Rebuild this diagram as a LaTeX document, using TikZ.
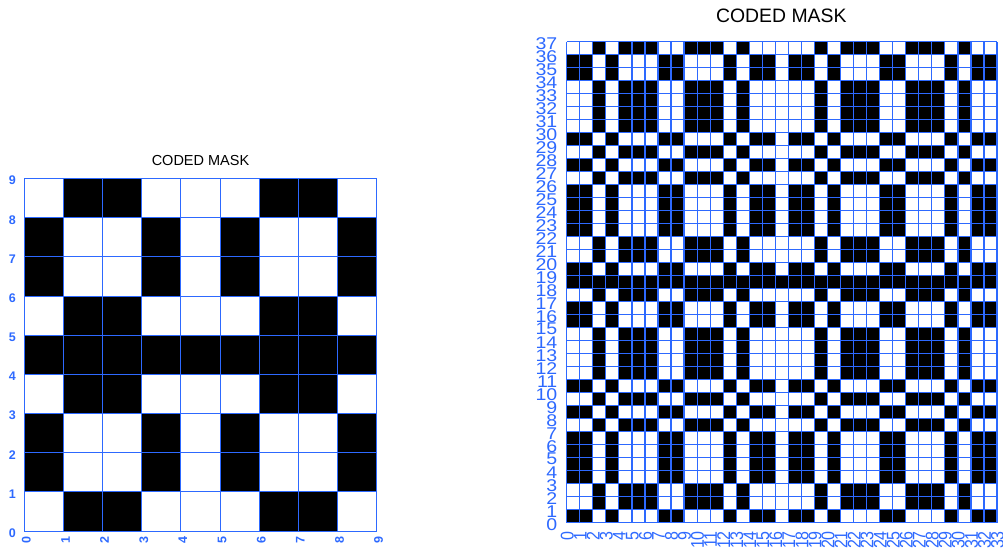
\documentclass[tikz,border=0pt]{standalone}
\usepackage{fontspec}
\setmainfont{Liberation Sans}
\definecolor{axblue}{RGB}{45,105,255}
\begin{document}
\begin{tikzpicture}[x=1pt,y=1pt,
  lgrid/.style={draw=axblue,line width=1pt},
  rgrid/.style={draw=axblue,line width=1.2pt},
  cellfill/.style={fill=black},
  llab/.style={text=axblue,inner sep=0pt,font={\fontsize{12.5}{15}\selectfont\bfseries}},
  rylab/.style={text=axblue,inner sep=0pt,font={\fontsize{17}{20}\selectfont}},
  rxlab/.style={text=axblue,inner sep=0pt,font={\fontsize{16}{18}\selectfont}},
  ttl/.style={text=black,inner sep=0pt}]
\useasboundingbox (0,0) rectangle (1003,554);
% ---------------- left mask 9x9 ----------------
\def\LT{{1,-1,-1,1,0,1,-1,-1,1}}
\def\lx{24.3}\def\ly{23}\def\lc{39.15}
\foreach \r in {0,...,8}{\foreach \c in {0,...,8}{
  \pgfmathtruncatemacro\va{\LT[\r]}
  \pgfmathtruncatemacro\vb{\LT[\c]}
  \pgfmathtruncatemacro\vp{\va*\vb}
  \ifnum\va=0 \fill[cellfill] (\lx+\c*\lc,\ly+\r*\lc) rectangle ++(\lc,\lc);\fi
  \ifnum\vp<0 \fill[cellfill] (\lx+\c*\lc,\ly+\r*\lc) rectangle ++(\lc,\lc);\fi
}}
\foreach \i in {0,...,9}{
  \draw[lgrid] (\lx+\i*\lc,\ly) -- (\lx+\i*\lc,\ly+9*\lc);
  \draw[lgrid] (\lx,\ly+\i*\lc) -- (\lx+9*\lc,\ly+\i*\lc);
  \node[llab,anchor=east] (ly\i) at (16,\ly+\i*\lc-2) {\i};
  \node[llab,rotate=90,anchor=east] (lx\i) at (\lx+\i*\lc+2,17.5) {\i};
}
\node[ttl,font={\fontsize{14.5}{17}\selectfont}] (ltitle) at (200.5,393.3) {CODED MASK};
% ---------------- right mask 33x37 ----------------
\def\RC{{1,1,-1,1,-1,-1,-1,1,1,-1,-1,-1,1,-1,1,1,0,1,1,-1,1,-1,-1,-1,1,1,-1,-1,-1,1,-1,1,1}}
\def\RR{{1,-1,-1,1,1,1,1,-1,1,-1,1,-1,-1,-1,-1,1,1,-1,0,1,-1,-1,1,1,1,1,-1,1,-1,1,-1,-1,-1,-1,1,1,-1}}
\def\rx{566.7}\def\ry{31.3}\def\cw{13.04}\def\ch{13}
\foreach \r in {0,...,36}{\foreach \c in {0,...,32}{
  \pgfmathtruncatemacro\va{\RR[\r]}
  \pgfmathtruncatemacro\vb{\RC[\c]}
  \pgfmathtruncatemacro\vp{\va*\vb}
  \ifnum\va=0 \fill[cellfill] (\rx+\c*\cw,\ry+\r*\ch) rectangle ++(\cw,\ch);\fi
  \ifnum\vp>0 \fill[cellfill] (\rx+\c*\cw,\ry+\r*\ch) rectangle ++(\cw,\ch);\fi
}}
\foreach \i in {0,...,33}{
  \draw[rgrid] (\rx+\i*\cw,\ry) -- (\rx+\i*\cw,\ry+37*\ch);
  \node[rxlab,rotate=90,anchor=east] (rx\i) at (\rx+\i*\cw+0.5,23) {\scalebox{1}[1.15]{\i}};
}
\foreach \j in {0,...,37}{
  \draw[rgrid] (\rx,\ry+\j*\ch) -- (\rx+33*\cw,\ry+\j*\ch);
  \node[rylab,anchor=east] (ry\j) at (557.5,\ry+\j*\ch-1.5) {\scalebox{1.15}[1]{\j}};
}
\node[ttl,font={\fontsize{19.4}{22}\selectfont}] (rtitle) at (781.3,538) {CODED MASK};
\end{tikzpicture}
\end{document}
